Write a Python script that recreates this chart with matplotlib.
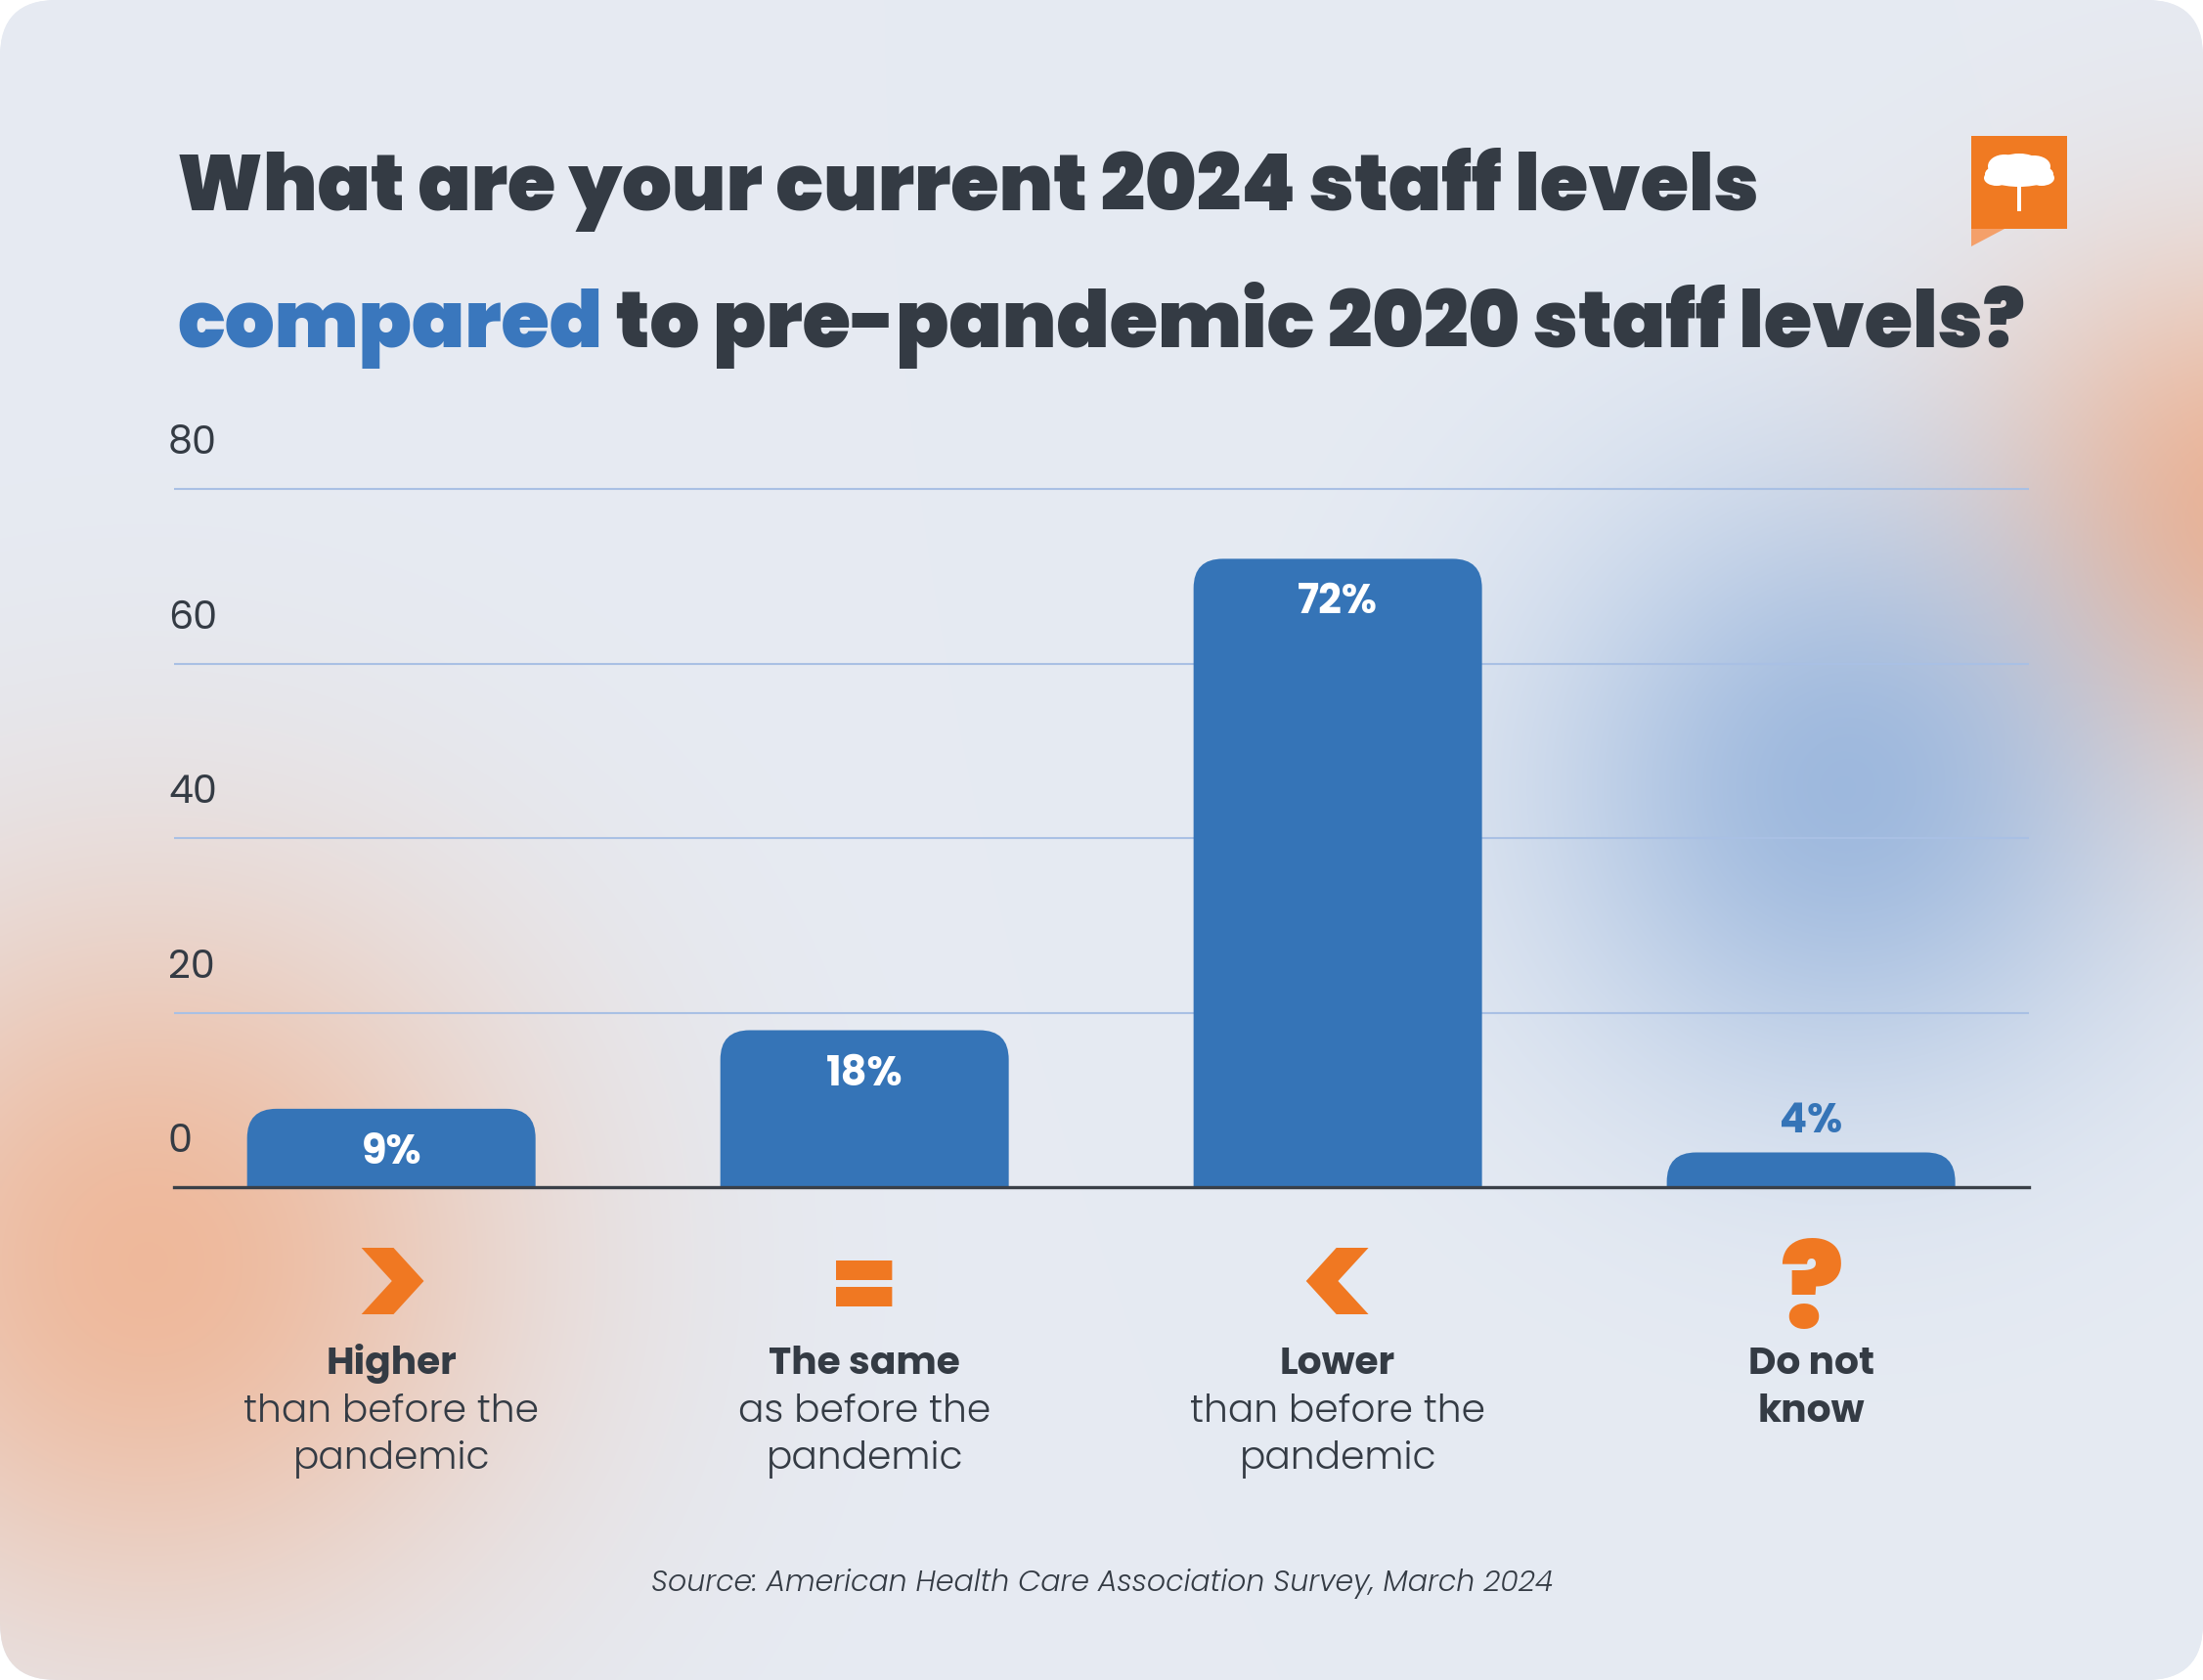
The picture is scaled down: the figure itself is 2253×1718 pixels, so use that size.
import numpy as np
import matplotlib
matplotlib.use("Agg")
import matplotlib.pyplot as plt
from matplotlib import font_manager as fm
from matplotlib.patches import FancyBboxPatch, Polygon, Ellipse, Rectangle

# ---------------- data ----------------
categories = ["Higher", "The same", "Lower", "Do not\nknow"]
subtitles = ["than before the\npandemic", "as before the\npandemic", "than before the\npandemic", ""]
symbols = [">", "=", "<", "?"]
values = [9, 18, 72, 4]
value_labels = ["9%", "18%", "72%", "4%"]
yticks = [0, 20, 40, 60, 80]
title_line1 = "What are your current 2024 staff levels"
title_blue = "compared"
title_rest = " to pre-pandemic 2020 staff levels?"
source = "Source: American Health Care Association Survey, March 2024"

# ---------------- style ----------------
W, H = 2253, 1718
DPI = 100
PT = 72.0 / DPI          # points per pixel
DARK = "#343B44"
BLUE = "#3574B7"
ORANGE = "#F07822"
GRID = "#A9C0E4"
BASE = np.array([0xE6, 0xEB, 0xF3]) / 255.0
# symbol glyph size, weight, baseline offset below the axis (pixels)
SYM_STYLE = {">": (110, 700, 150), "=": (70.5, 900, 132), "<": (110, 700, 150), "?": (86, 900, 144)}

names = {f.name for f in fm.fontManager.ttflist}
def pick(*cands):
    for c in cands:
        if c in names:
            return c
    return "DejaVu Sans"

FONT = pick("Poppins", "Gothic A1", "Lato", "DejaVu Sans")

fig = plt.figure(figsize=(W / DPI, H / DPI), dpi=DPI)
fig.patch.set_facecolor("white")
renderer = fig.canvas.get_renderer()

def width_px(t):
    return t.get_window_extent(renderer=renderer).width

def fit(t, target, ref=40.0):
    t.set_fontsize(ref)
    t.set_fontsize(ref * target / width_px(t))
    return t.get_fontsize()

# ---------------- background card with glows ----------------
bg = fig.add_axes([0, 0, 1, 1], zorder=-10)
bg.set_xlim(0, W)
bg.set_ylim(H, 0)
bg.axis("off")
card = FancyBboxPatch((0, 0), W, H, boxstyle="round,pad=0,rounding_size=58",
                      facecolor=BASE, edgecolor="none")
bg.add_patch(card)

step = 3
gx, gy = np.meshgrid(np.arange(0, W, step), np.arange(0, H, step))
rgb = np.ones(gx.shape + (3,)) * BASE
glows = [
    ((150, 1290), 270, np.array([0xF0, 0xB0, 0x8C]) / 255, 0.85),
    ((2290, 530), 190, np.array([0xF0, 0xAE, 0x8A]) / 255, 0.92),
    ((1885, 805), 215, np.array([0x94, 0xB2, 0xDB]) / 255, 0.88),
]
for (cx, cy), s, col, pk in glows:
    w = pk * np.exp(-((gx - cx) ** 2 + (gy - cy) ** 2) / (2 * s ** 2))
    rgb = rgb * (1 - w[..., None]) + col * w[..., None]
im = bg.imshow(rgb, extent=(0, W, H, 0), interpolation="bilinear", zorder=1)
im.set_clip_path(card)

# logo
bg.add_patch(Rectangle((2016, 139), 98, 95, facecolor="#F07A22", edgecolor="none", zorder=3))
bg.add_patch(Polygon([(2016, 234), (2050, 234), (2016, 252)], closed=True,
                     facecolor="#F4A06A", edgecolor="none", zorder=3))
for (ex, ey, ew, eh) in [(2065, 178, 70, 26), (2050, 170, 34, 24), (2080, 170, 34, 22),
                         (2065, 166, 40, 18), (2042, 182, 26, 16), (2088, 182, 26, 16)]:
    bg.add_patch(Ellipse((ex, ey), ew, eh, facecolor="white", edgecolor="none", zorder=4))
bg.add_patch(Rectangle((2063, 185), 4, 31, facecolor="white", edgecolor="none", zorder=4))

# ---------------- main axes ----------------
base_px = 1214.2
px_per_unit = (base_px - 500.0) / 80.0
ytop = 82
left, right = 178, 2075
ax = fig.add_axes([left / W, (H - base_px) / H, (right - left) / W, ytop * px_per_unit / H])
ax.set_facecolor("none")
x = np.arange(len(categories))
spacing = 484.0
ax.set_xlim(-(400.2 - left) / spacing, 3 + (right - 1852.1) / spacing)
ax.set_ylim(0, ytop)
for s in ax.spines.values():
    s.set_visible(False)
ax.set_xticks([])
ax.set_yticks([])

for v in yticks[1:]:
    ax.axhline(v, color=GRID, lw=1.5, zorder=1)
ax.axhline(0, color="#3A4048", lw=2.4, zorder=5, clip_on=False)

bar_w = 295 / spacing
bars = ax.bar(x, values, width=bar_w, color="none")
r_px = 30
rx = r_px / spacing
aspect = (r_px / px_per_unit) / rx
for rect in bars:
    bx, bw, bh = rect.get_x(), rect.get_width(), rect.get_height()
    p = FancyBboxPatch((bx, -6), bw, bh + 6,
                       boxstyle=f"round,pad=0,rounding_size={rx}",
                       mutation_aspect=aspect, facecolor=BLUE, edgecolor="none", zorder=3)
    ax.add_patch(p)
    rect.remove()

# value labels
probe = fig.text(0, 0, "72%", family=FONT, fontweight="bold")
fs_val = fit(probe, 82)
probe.remove()
for i, (v, lab) in enumerate(zip(values, value_labels)):
    inside = v >= 8
    ax.annotate(lab, (x[i], v), xytext=(0, (-56 if inside else 20) * PT), textcoords="offset points",
                ha="center", va="baseline", color="white" if inside else BLUE, fontsize=fs_val,
                fontweight="bold", family=FONT, zorder=6)

# y tick labels (left aligned, above gridlines)
probe = fig.text(0, 0, "80", family=FONT, fontweight="normal")
fs_tick = fit(probe, 50)
probe.remove()
for v in yticks:
    ax.annotate(str(v), (0, v), xycoords=ax.get_yaxis_transform(),
                xytext=(-6 * PT, 36 * PT), textcoords="offset points",
                ha="left", va="baseline", color=DARK, fontsize=fs_tick, family=FONT,
                fontweight="normal", annotation_clip=False)

# category labels below the axis
probe = fig.text(0, 0, "than before the", family=FONT, fontweight=300)
fs_body = fit(probe, 302)
probe.remove()
for i in range(len(categories)):
    sz, wt, off = SYM_STYLE[symbols[i]]
    ax.annotate(symbols[i], (x[i], 0), xytext=(0, -off * PT), textcoords="offset points",
                ha="center", va="baseline", color=ORANGE, fontsize=sz, fontweight=wt,
                family=FONT, annotation_clip=False)
    lines_b = categories[i].split("\n")
    lines_s = subtitles[i].split("\n") if subtitles[i] else []
    k = 0
    for ln in lines_b:
        ax.annotate(ln, (x[i], 0), xytext=(0, -(191 + 48.5 * k) * PT), textcoords="offset points",
                    ha="center", va="baseline", color=DARK, fontsize=fs_body, fontweight="bold",
                    family=FONT, annotation_clip=False)
        k += 1
    for ln in lines_s:
        ax.annotate(ln, (x[i], 0), xytext=(0, -(191 + 48.5 * k) * PT), textcoords="offset points",
                    ha="center", va="baseline", color=DARK, fontsize=fs_body, fontweight=300,
                    family=FONT, annotation_clip=False)
        k += 1

# ---------------- title ----------------
x0 = 181 / W
t1 = fig.text(x0, 1 - 215 / H, title_line1, fontweight="black",
              family=FONT, color=DARK, va="baseline", ha="left")
t2a = fig.text(x0, 1 - 355 / H, title_blue, fontweight="black",
               family=FONT, color="#3A77BD", va="baseline", ha="left")
t2b = fig.text(x0, 1 - 355 / H, title_rest, fontweight="black",
               family=FONT, color=DARK, va="baseline", ha="left")
f1 = fit(t1, 1612)
for t in (t2a, t2b):
    t.set_fontsize(60)
f2 = 60 * 1897 / (width_px(t2a) + width_px(t2b))
fs = (f1 + f2) / 2
for t in (t1, t2a, t2b):
    t.set_fontsize(fs)
t2b.set_x(x0 + width_px(t2a) / W)

src = fig.text(1127 / W, 1 - 1627 / H, source, ha="center", va="baseline",
               style="italic", fontweight=300, color=DARK, family=FONT)
fit(src, 922)

fig.savefig("out.png", dpi=DPI)
